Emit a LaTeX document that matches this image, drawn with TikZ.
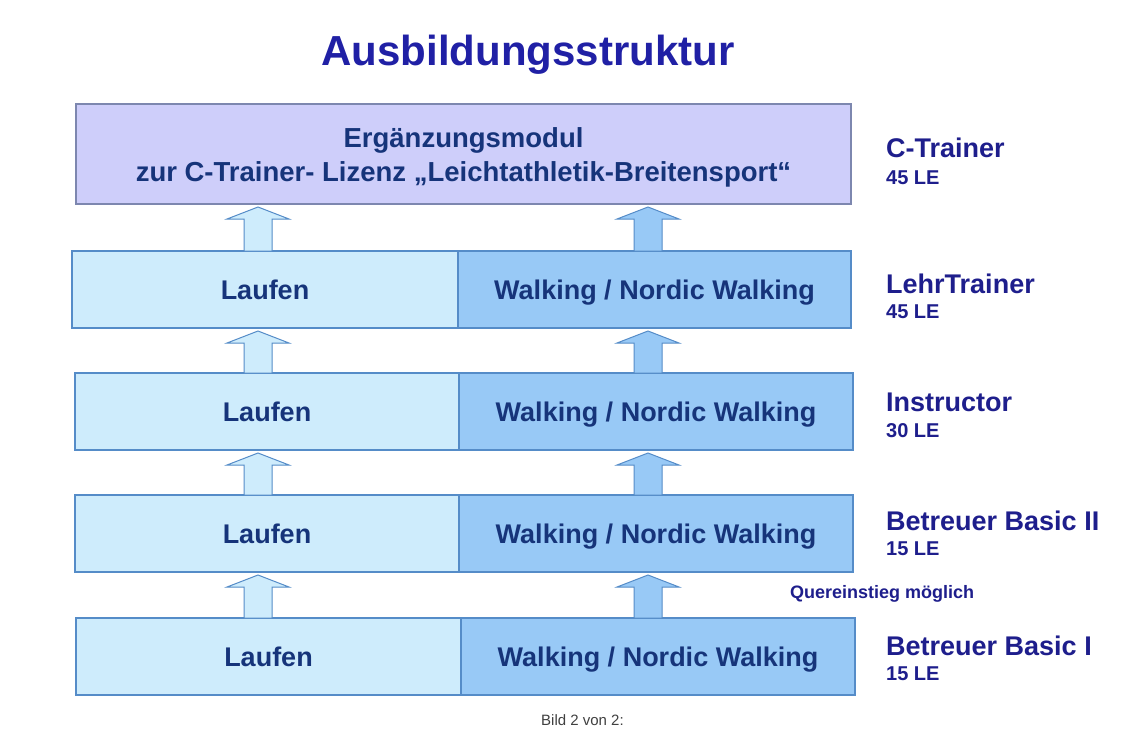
\documentclass[tikz,border=0pt]{standalone}
\usepackage{fontspec}
\setmainfont{Liberation Sans}
\usetikzlibrary{calc}
\definecolor{topfill}{RGB}{206,206,250}
\definecolor{topline}{RGB}{125,135,175}
\definecolor{lfill}{RGB}{206,236,252}
\definecolor{rfill}{RGB}{152,201,246}
\definecolor{cellline}{RGB}{85,140,200}
\definecolor{boxtext}{RGB}{22,52,122}
\definecolor{labtext}{RGB}{30,30,140}
\definecolor{titletext}{RGB}{32,32,165}
\newcommand\uparrowbox[4]{%
  \draw[upar,fill=#4] let \p1=(#1.north), \p2=(#2.south) in
    ({#3pt-14pt},\y1) -- ({#3pt-14pt},{\y2-15pt}) -- ({#3pt-31pt},{\y2-15pt})
    -- (#3pt,{\y2-3pt}) -- ({#3pt+31pt},{\y2-15pt}) -- ({#3pt+14pt},{\y2-15pt})
    -- ({#3pt+14pt},\y1) -- cycle;}
\begin{document}
\begin{tikzpicture}[x=1pt,y=-1pt,
  cell/.style={draw=cellline,line width=1.2pt,inner sep=0pt,outer sep=0pt,minimum height=77pt,text height=20pt,text depth=1pt,text=boxtext,font=\fontsize{27}{32}\selectfont\bfseries},
  lcell/.style={cell,fill=lfill},
  rcell/.style={cell,fill=rfill},
  upar/.style={draw=cellline,line width=1pt},
  lab/.style={anchor=base west,inner sep=0pt,text=labtext,font=\fontsize{27}{32}\selectfont\bfseries},
  le/.style={anchor=base west,inner sep=0pt,text=labtext,font=\fontsize{20}{24}\selectfont\bfseries}]
\fill[white] (0,0) rectangle (1129,742);
\useasboundingbox (0,0) rectangle (1129,742);

\node[anchor=base,inner sep=0pt,text=titletext,font=\fontsize{42}{50}\selectfont\bfseries] (title) at (528,65) {Ausbildungsstruktur};

\node[draw=topline,fill=topfill,line width=1.2pt,inner sep=0pt,outer sep=0pt,minimum width=775pt,minimum height=100pt] (top) at (463.5,154) {};
\node[inner sep=0pt,align=center,text=boxtext,font=\fontsize{27.5}{34}\selectfont\bfseries] (toptxt) at ([yshift=-3pt]top.center) {Ergänzungsmodul\\zur C-Trainer- Lizenz „Leichtathletik-Breitensport“};

\node[lcell,minimum width=386pt] (r1l) at (265,289.5) {Laufen};
\node[rcell,minimum width=393pt] (r1r) at (654.5,289.5) {Walking / Nordic Walking};
\node[lcell,minimum width=384pt] (r2l) at (267,411.5) {Laufen};
\node[rcell,minimum width=394pt] (r2r) at (656,411.5) {Walking / Nordic Walking};
\node[lcell,minimum width=384pt] (r3l) at (267,533.5) {Laufen};
\node[rcell,minimum width=394pt] (r3r) at (656,533.5) {Walking / Nordic Walking};
\node[lcell,minimum width=385pt] (r4l) at (268.5,656.5) {Laufen};
\node[rcell,minimum width=394pt] (r4r) at (658,656.5) {Walking / Nordic Walking};

\uparrowbox{r1l}{top}{258}{lfill}
\uparrowbox{r1r}{top}{648}{rfill}
\uparrowbox{r2l}{r1l}{258}{lfill}
\uparrowbox{r2r}{r1r}{648}{rfill}
\uparrowbox{r3l}{r2l}{258}{lfill}
\uparrowbox{r3r}{r2r}{648}{rfill}
\uparrowbox{r4l}{r3l}{258}{lfill}
\uparrowbox{r4r}{r3r}{648}{rfill}

\node[lab] (l0) at (886,157) {C-Trainer};
\node[le] (e0) at (886,184) {45 LE};
\node[lab] (l1) at (886,293) {LehrTrainer};
\node[le] (e1) at (886,318) {45 LE};
\node[lab] (l2) at (886,411) {Instructor};
\node[le] (e2) at (886,437) {30 LE};
\node[lab] (l3) at (886,530) {Betreuer Basic II};
\node[le] (e3) at (886,555) {15 LE};
\node[lab] (l4) at (886,655) {Betreuer Basic I};
\node[le] (e4) at (886,680) {15 LE};

\node[anchor=base west,inner sep=0pt,text=labtext,font=\fontsize{18}{21}\selectfont\bfseries] (quer) at (790,598) {Quereinstieg möglich};
\node[anchor=base west,inner sep=0pt,text=black!75,font=\fontsize{15}{18}\selectfont] (cap) at (541,725) {Bild 2 von 2:};
\end{tikzpicture}
\end{document}
